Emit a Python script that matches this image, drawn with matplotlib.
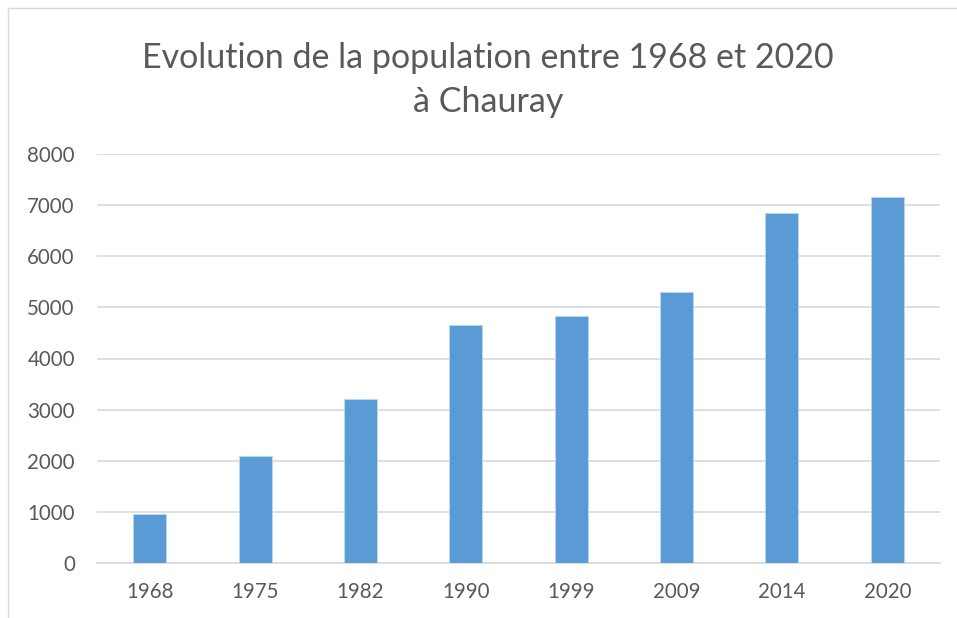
import matplotlib
matplotlib.use("Agg")
import matplotlib.pyplot as plt
from matplotlib.patches import Rectangle

years = ["1968", "1975", "1982", "1990", "1999", "2009", "2014", "2020"]
population = [953, 2089, 3210, 4658, 4824, 5298, 6838, 7163]
yticks = [0, 1000, 2000, 3000, 4000, 5000, 6000, 7000, 8000]
title = "Evolution de la population entre 1968 et 2020\nà Chauray"

plt.rcParams['font.family'] = ['Lato', 'DejaVu Sans']

fig = plt.figure(figsize=(9.57, 6.18), dpi=100)
ax = fig.add_axes([97/957, 1-563/618, (940-97)/957, (563-154)/618])

x = range(len(years))
ax.bar(x, population, width=0.313, color="#5B9BD5", edgecolor="#BDD7EE", linewidth=0.6, zorder=3)
ax.set_xlim(-0.5, len(years)-0.5)
ax.set_ylim(0, 8000)
ax.set_yticks(yticks)
ax.set_yticklabels([str(v) for v in yticks])
ax.set_xticks(list(x))
ax.set_xticklabels(years)
ax.grid(axis='y', color="#D9D9D9", linewidth=1.2, zorder=0)
ax.set_axisbelow(True)
for s in ['top', 'right', 'left']:
    ax.spines[s].set_visible(False)
ax.spines['bottom'].set_color("#D9D9D9")
ax.spines['bottom'].set_linewidth(1.2)
ax.tick_params(axis='both', length=0, labelsize=14.8, labelcolor="#595959")
ax.tick_params(axis='y', pad=16)
ax.tick_params(axis='x', pad=14)

fig.text(488/957, 1-80/618, title, ha='center', va='center', fontsize=24.5,
         color="#595959", linespacing=1.45)

fig.patches.append(Rectangle((8/957, -0.01), 1.0, 1-8/618+0.01, transform=fig.transFigure,
                             fill=False, edgecolor="#D9D9D9", linewidth=1))

fig.savefig("out.png", dpi=100, facecolor="white")
